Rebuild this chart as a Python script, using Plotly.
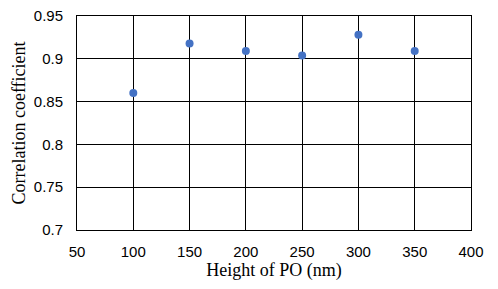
import plotly.graph_objects as go

heights = [100, 150, 200, 250, 300, 350]
corr = [0.860, 0.918, 0.909, 0.904, 0.928, 0.909]

fig = go.Figure()
fig.add_trace(go.Scatter(
    x=heights, y=corr, mode="markers",
    marker=dict(color="#4472C4", size=8),
    showlegend=False,
))

tick_font = dict(family="Liberation Sans", size=15, color="#000000")
title_font = dict(family="Liberation Serif", size=18, color="#000000")

fig.update_xaxes(
    range=[50, 400], dtick=50, tick0=50, automargin=False,
    showgrid=True, gridcolor="#000000", gridwidth=1,
    showline=True, linecolor="#000000", linewidth=1, mirror=True,
    zeroline=False, ticks="", tickfont=tick_font, ticklabelstandoff=8,
    ticklabeloverflow="allow",
    title=dict(text="Height of PO (nm)", font=title_font, standoff=0),
)
fig.update_yaxes(
    range=[0.7, 0.95], dtick=0.05, tick0=0.7, tickformat="~g", automargin=False,
    showgrid=True, gridcolor="#000000", gridwidth=1,
    showline=True, linecolor="#000000", linewidth=1, mirror=True,
    zeroline=False, ticks="", tickfont=tick_font, ticklabelstandoff=10,
    ticklabeloverflow="allow",
    title=dict(text="Correlation coefficient", font=title_font, standoff=3),
)
# page body adds ~8px offset, so margins are shifted to compensate
fig.update_layout(
    width=498, height=289,
    margin=dict(l=69, r=35, t=8, b=67),
    plot_bgcolor="white", paper_bgcolor="white",
)

fig.write_html("out.html")
